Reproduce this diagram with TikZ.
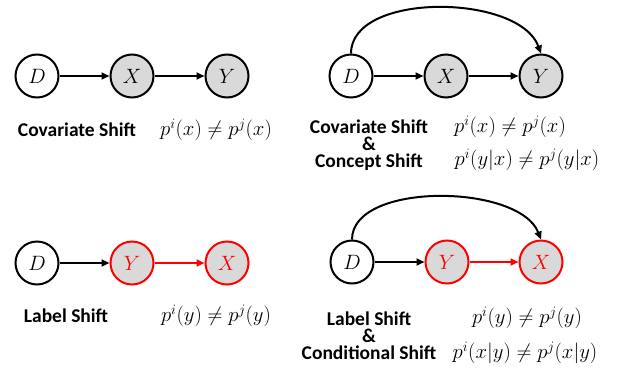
\documentclass[tikz,border=0pt]{standalone}
\usepackage{fontspec}
\setsansfont{Carlito}
\usetikzlibrary{arrows.meta}
\definecolor{nodegray}{HTML}{D9D9D9}
\begin{document}
\begin{tikzpicture}[x={(1pt,0)},y={(0,-1pt)},
  var/.style={circle,draw=black,line width=2pt,minimum size=43pt,inner sep=0pt,font=\fontsize{20}{24}\selectfont},
  obs/.style={var,fill=nodegray},
  redobs/.style={obs,draw=red,text=red},
  arr/.style={line width=2pt,-{Triangle[length=8pt,width=7pt]}},
  redarr/.style={arr,draw=red,-{Triangle[length=8pt,width=7pt,fill=red]}},
  lbl/.style={font=\sffamily\bfseries\fontsize{19.5}{17}\selectfont,inner sep=0pt,align=center},
  fml/.style={font=\fontsize{20.5}{24}\selectfont,inner sep=0pt}]
\useasboundingbox (0,0) rectangle (618,367);
% top-left
\node[var] (D1) at (37,76) {$D$};
\node[obs] (X1) at (132,76) {$X$};
\node[obs] (Y1) at (227,76) {$Y$};
\draw[arr] (D1) -- (X1);
\draw[arr] (X1) -- (Y1);
\node[lbl] (L1) at (77,130) {Covariate Shift};
\node[fml] (F1) at (216,130) {$p^i(x)\neq p^j(x)$};
% top-right
\node[var] (D2) at (351,76) {$D$};
\node[obs] (X2) at (446,76) {$X$};
\node[obs] (Y2) at (541,76) {$Y$};
\draw[arr] (D2) -- (X2);
\draw[arr] (X2) -- (Y2);
\draw[arr] (D2.north) .. controls +(0,-62) and +(-22,-60) .. (Y2.north);
\node[lbl] (L2) at (369,145) {Covariate Shift\\\&\\Concept Shift};
\node[fml] (F2a) at (510,127) {$p^i(x)\neq p^j(x)$};
\node[fml] (F2b) at (527,160) {$p^i(y|x)\neq p^j(y|x)$};
% bottom-left
\node[var] (D3) at (37,263) {$D$};
\node[redobs] (Y3) at (132,263) {$Y$};
\node[redobs] (X3) at (227,263) {$X$};
\draw[arr] (D3) -- (Y3);
\draw[redarr] (Y3) -- (X3);
\node[lbl] (L3) at (66,316) {Label Shift};
\node[fml] (F3) at (216,316) {$p^i(y)\neq p^j(y)$};
% bottom-right
\node[var] (D4) at (352,262) {$D$};
\node[redobs] (Y4) at (447,262) {$Y$};
\node[redobs] (X4) at (541,262) {$X$};
\draw[arr] (D4) -- (Y4);
\draw[redarr] (Y4) -- (X4);
\draw[arr] (D4.north) .. controls +(0,-58) and +(-22,-56) .. (X4.north);
\node[lbl] (L4) at (369,336) {Label Shift\\\&\\Conditional Shift};
\node[fml] (F4a) at (527,318) {$p^i(y)\neq p^j(y)$};
\node[fml] (F4b) at (525,353) {$p^i(x|y)\neq p^j(x|y)$};
\end{tikzpicture}
\end{document}
